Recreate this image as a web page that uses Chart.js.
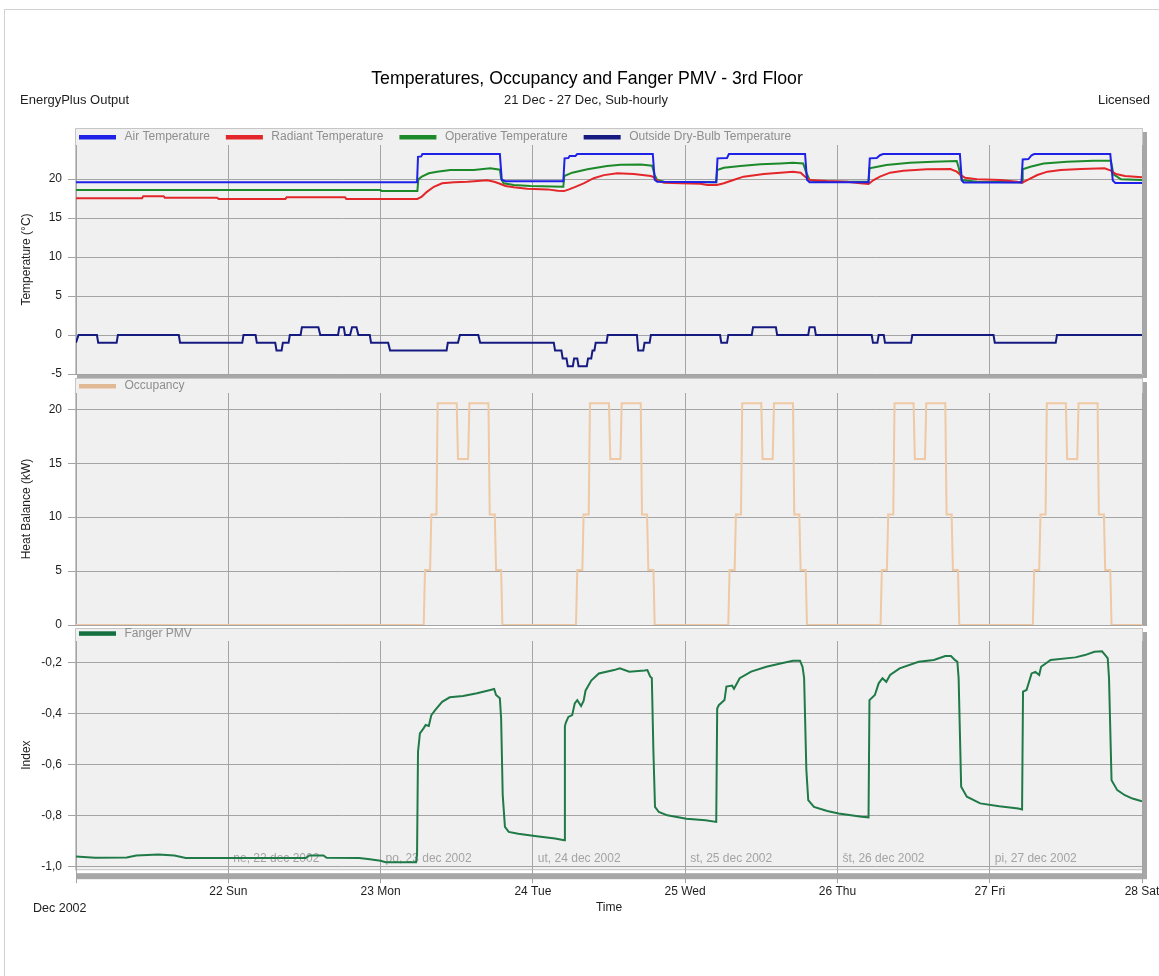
<!DOCTYPE html>
<html>
<head>
<meta charset="utf-8">
<title>Temperatures, Occupancy and Fanger PMV - 3rd Floor</title>
<script src="https://cdn.jsdelivr.net/npm/chart.js@4.4.1/dist/chart.umd.min.js"></script>
<style>
  html, body { margin: 0; padding: 0; background: #fff; overflow: hidden; }
  #page { position: relative; width: 1159px; height: 976px; overflow: hidden; background: #fff; }
  #frame { position: absolute; left: 4px; top: 9px; width: 1200px; height: 1000px;
           border-top: 1px solid #d2d2d2; border-left: 1px solid #d2d2d2; }
  canvas { position: absolute; left: 0; top: 0; }
</style>
</head>
<body>
<div id="page">
  <div id="frame"></div>
  <canvas id="cTemp" width="1200" height="976"></canvas>
  <canvas id="cOcc" width="1200" height="976"></canvas>
  <canvas id="cPmv" width="1200" height="976"></canvas>
</div>
<script>
// ---- Text ----
const TITLE = 'Temperatures, Occupancy and Fanger PMV - 3rd Floor';
const SUBTITLE = '21 Dec - 27 Dec, Sub-hourly';
const LEFT_NOTE = 'EnergyPlus Output';
const RIGHT_NOTE = 'Licensed';
const MONTH_LABEL = 'Dec 2002';

// ---- Time axis (hours from 21 Dec 2002 00:00) ----
const DAY_TICKS = [0, 24, 48, 72, 96, 120, 144, 168];
const DAY_LABELS = ['', '22 Sun', '23 Mon', '24 Tue', '25 Wed', '26 Thu', '27 Fri', '28 Sat'];
const DAY_NOTE_HOURS = [24, 48, 72, 96, 120, 144];
const DAY_NOTES = ['ne, 22 dec 2002', 'po, 23 dec 2002', 'ut, 24 dec 2002',
                   'st, 25 dec 2002', 'št, 26 dec 2002', 'pi, 27 dec 2002'];

// ---- Y ticks ----
const TEMP_TICKS = [-5, 0, 5, 10, 15, 20];
const OCC_TICKS = [0, 5, 10, 15, 20];
const PMV_TICKS = [-1.0, -0.8, -0.6, -0.4, -0.2];

// ---- Series: [hour, value] ----
const AIR_TEMP = [
  [0,19.6],[53.75,19.6],[53.9,22.85],[54.4,22.9],[54.6,23.2],[66.8,23.2],[67.1,19.9],[67.7,19.7],
  [76.8,19.7],[77.0,22.65],[77.6,22.7],[77.8,22.95],[78.7,22.95],[79.0,23.2],[90.9,23.2],[91.2,19.9],
  [91.6,19.65],[100.9,19.6],[101.1,22.65],[102.6,22.7],[102.9,23.2],[114.9,23.2],[115.2,19.9],[115.6,19.6],
  [124.9,19.6],[125.1,22.65],[126.2,22.7],[126.7,23.05],[127.2,23.2],[139.3,23.2],[139.6,19.8],[139.9,19.55],
  [149.0,19.55],[149.2,22.5],[150.1,22.55],[150.6,23.05],[151.0,23.2],[163.0,23.2],[163.4,19.8],[163.8,19.5],
  [168,19.5]
];
const RADIANT_TEMP = [
  [0,17.52],[10.4,17.52],[10.6,17.8],[13.8,17.8],[14.0,17.6],[22.2,17.6],[22.5,17.45],[33.0,17.45],
  [33.2,17.65],[42.4,17.65],[42.6,17.45],[53.8,17.45],[54.5,17.75],[55.3,18.35],[56.4,19.0],[57.7,19.45],
  [59.6,19.58],[61.7,19.65],[64.8,19.85],[65.9,19.65],[66.6,19.45],[67.7,19.1],[69.0,18.93],[71.1,18.76],
  [74.3,18.67],[75.9,18.5],[76.9,18.45],[77.7,18.67],[78.7,19.0],[80.0,19.45],[81.6,20.1],[83.2,20.5],
  [85.3,20.73],[87.9,20.65],[90.6,20.38],[91.1,20.22],[91.6,19.78],[92.7,19.53],[95.3,19.45],[98.4,19.4],
  [99.5,19.23],[101.0,19.23],[102.1,19.45],[103.6,19.87],[105.2,20.3],[108.4,20.64],[111.0,20.81],[113.0,20.94],
  [114.2,20.81],[114.9,20.3],[115.7,19.87],[118.3,19.74],[121.5,19.65],[123.6,19.45],[124.9,19.36],[125.7,19.87],
  [126.7,20.3],[128.3,20.81],[130.4,21.07],[134.1,21.24],[137.8,21.28],[138.8,20.94],[139.4,20.51],[140.1,20.17],
  [142.0,19.96],[145.7,19.87],[148.3,19.65],[149.1,19.53],[149.9,19.87],[151.5,20.51],[153.1,20.94],[155.2,21.15],
  [158.4,21.28],[162.1,21.37],[163.1,21.07],[163.9,20.64],[165.3,20.38],[168,20.22]
];
const OPERATIVE_TEMP = [
  [0,18.59],[48.0,18.59],[48.1,18.47],[53.8,18.47],[53.95,19.96],[54.5,20.3],[55.6,20.73],[56.9,20.94],
  [59.0,21.15],[62.7,21.15],[65.3,21.37],[66.8,21.2],[67.0,20.0],[67.4,19.45],[69.0,19.23],[71.6,19.1],
  [76.8,19.01],[76.95,20.38],[78.2,20.81],[80.6,21.24],[83.7,21.67],[85.8,21.83],[89.0,21.85],[90.8,21.7],
  [91.2,20.5],[91.6,19.87],[92.7,19.65],[100.9,19.6],[101.05,21.15],[102.1,21.45],[104.7,21.67],[107.9,21.88],
  [111.0,22.0],[113.0,22.09],[114.6,22.0],[115.1,20.8],[115.6,19.87],[117.3,19.65],[124.9,19.65],[125.05,21.37],
  [125.9,21.5],[127.7,21.79],[131.4,22.09],[135.1,22.22],[138.8,22.3],[139.1,21.5],[139.6,19.87],[142.0,19.65],
  [149.1,19.6],[149.2,21.24],[150.4,21.58],[152.5,22.0],[156.2,22.22],[160.4,22.35],[163.1,22.35],[163.5,20.6],
  [164.7,19.96],[168,19.87]
];
const OUTSIDE_TEMP = [
  [0,-1],[0.4,0],[3.3,0],[3.5,-1],[6.4,-1],[6.6,0],[16.2,0],[16.4,-1],[26.2,-1],[26.4,0],[28.3,0],[28.5,-1],
  [31.4,-1],[31.6,-2],[32.4,-2],[32.6,-1],[33.5,-1],[33.7,0],[35.4,0],[35.6,1],[38.2,1],[38.5,0],[41.3,0],
  [41.5,1],[42.2,1],[42.4,0],[43.2,0],[43.5,1],[44.2,1],[44.5,0],[46.3,0],[46.5,-1],[49.2,-1],[49.5,-2],
  [58.4,-2],[58.6,-1],[60.2,-1],[60.5,0],[63.4,0],[63.7,-1],[75.3,-1],[75.5,-2],[76.5,-2],[76.7,-3],[77.3,-3],
  [77.5,-4],[78.3,-4],[78.5,-3],[79.0,-3],[79.2,-4],[80.5,-4],[80.7,-3],[81.2,-3],[81.4,-2],[81.7,-2],[81.9,-1],
  [83.6,-1],[83.8,0],[88.4,0],[88.6,-2],[89.4,-2],[89.6,-1],[90.4,-1],[90.6,0],[101.5,0],[101.7,-1],[102.6,-1],
  [102.8,0],[106.5,0],[106.7,1],[110.3,1],[110.5,0],[115.4,0],[115.6,1],[116.4,1],[116.6,0],[125.4,0],[125.6,-1],
  [126.3,-1],[126.5,0],[127.3,0],[127.5,-1],[131.6,-1],[131.8,0],[144.6,0],[144.8,-1],[154.4,-1],[154.6,0],[168,0]
];
const OCCUPANCY = [
  [0,0],[54.8,0],
  [55,5.1],[55.8,5.1],[56,10.25],[56.8,10.25],[57,20.55],[60,20.55],[60.2,15.4],[61.8,15.4],[62,20.55],[65,20.55],
  [65.2,10.25],[66,10.25],[66.2,5.1],[67,5.1],[67.2,0],
  [78.8,0],[79,5.1],[79.8,5.1],[80,10.25],[80.8,10.25],[81,20.55],[84,20.55],[84.2,15.4],[85.8,15.4],[86,20.55],
  [89,20.55],[89.2,10.25],[90,10.25],[90.2,5.1],[91,5.1],[91.2,0],
  [102.8,0],[103,5.1],[103.8,5.1],[104,10.25],[104.8,10.25],[105,20.55],[108,20.55],[108.2,15.4],[109.8,15.4],
  [110,20.55],[113,20.55],[113.2,10.25],[114,10.25],[114.2,5.1],[115,5.1],[115.2,0],
  [126.8,0],[127,5.1],[127.8,5.1],[128,10.25],[128.8,10.25],[129,20.55],[132,20.55],[132.2,15.4],[133.8,15.4],
  [134,20.55],[137,20.55],[137.2,10.25],[138,10.25],[138.2,5.1],[139,5.1],[139.2,0],
  [150.8,0],[151,5.1],[151.8,5.1],[152,10.25],[152.8,10.25],[153,20.55],[156,20.55],[156.2,15.4],[157.8,15.4],
  [158,20.55],[161,20.55],[161.2,10.25],[162,10.25],[162.2,5.1],[163,5.1],[163.2,0],[168,0]
];
const FANGER_PMV = [
  [0,-0.962],[3,-0.967],[8,-0.966],[9.5,-0.958],[13,-0.954],[15.5,-0.958],[17.3,-0.968],[36.2,-0.968],
  [36.8,-0.958],[39.0,-0.958],[39.5,-0.967],[44.6,-0.968],[46,-0.972],[48,-0.979],[48.8,-0.984],[53.6,-0.984],
  [53.75,-0.95],[53.9,-0.55],[54.2,-0.478],[54.8,-0.457],[55.1,-0.445],[55.6,-0.449],[56.0,-0.406],[56.6,-0.386],
  [57.7,-0.354],[58.9,-0.336],[61.0,-0.331],[63.2,-0.32],[65.3,-0.307],[65.9,-0.303],[66.2,-0.327],[66.8,-0.34],
  [67.0,-0.42],[67.25,-0.72],[67.6,-0.845],[68.2,-0.865],[69.7,-0.872],[72.6,-0.882],[75.5,-0.891],[76.95,-0.898],
  [77.05,-0.45],[77.2,-0.435],[77.6,-0.413],[78.2,-0.406],[78.6,-0.36],[79.0,-0.347],[79.6,-0.37],[80.0,-0.35],
  [80.3,-0.31],[81.2,-0.27],[82.4,-0.242],[84.8,-0.229],[85.7,-0.222],[87.2,-0.235],[89.6,-0.231],[90.05,-0.229],
  [90.5,-0.255],[90.75,-0.26],[91.0,-0.55],[91.25,-0.767],[91.85,-0.787],[93.2,-0.8],[96.2,-0.813],[99.2,-0.819],
  [100.9,-0.826],
  [101.05,-0.38],[101.3,-0.367],[102.2,-0.347],[102.5,-0.294],[103.4,-0.29],[103.7,-0.302],[104.6,-0.261],
  [106.4,-0.235],[108.8,-0.216],[111.2,-0.202],[113.0,-0.192],[114.1,-0.192],[114.5,-0.216],[114.75,-0.26],
  [115.1,-0.62],[115.4,-0.74],[116.3,-0.767],[118.4,-0.783],[120.2,-0.793],[123.8,-0.806],[124.9,-0.808],
  [125.05,-0.347],[125.9,-0.327],[126.5,-0.281],[127.1,-0.261],[127.7,-0.275],[128.3,-0.248],[129.8,-0.222],
  [132.8,-0.196],[135.2,-0.189],[137.0,-0.174],[137.9,-0.174],[138.5,-0.189],[138.9,-0.196],[139.1,-0.26],
  [139.5,-0.688],[140.4,-0.727],[142.5,-0.753],[145.5,-0.764],[148.5,-0.773],[149.1,-0.777],
  [149.25,-0.314],[149.8,-0.307],[150.6,-0.242],[151.2,-0.236],[151.8,-0.248],[152.1,-0.216],[153.6,-0.189],
  [157.5,-0.179],[159.0,-0.17],[160.5,-0.157],[161.7,-0.155],[162.4,-0.176],[162.6,-0.183],[162.8,-0.26],
  [163.2,-0.662],[164.1,-0.701],[165.3,-0.721],[166.5,-0.734],[168,-0.745]
];

// ---- Styling ----
const FONT = '"Liberation Sans", Arial, Helvetica, sans-serif';
const INK = '#1e1e1e';
const GRID = '#a4a4a4';
const PLOT_BG = '#f0f0f0';
const LEGEND_INK = '#8e8e8e';

Chart.defaults.font.family = FONT;
Chart.defaults.font.size = 12;
Chart.defaults.color = INK;
Chart.defaults.animation = false;

const toXY = (pairs) => pairs.map(([x, y]) => ({ x, y }));

// Panel box with drop shadow plus a legend strip above the plot area
const panelFrame = {
  id: 'panelFrame',
  beforeDraw(chart, args, o) {
    const { ctx, chartArea: a } = chart;
    const left = a.left - 1, right = a.right + 1;
    const top = a.top - o.strip, bottom = a.bottom + 1;
    ctx.save();
    ctx.fillStyle = '#a7a7a7';
    ctx.fillRect(right, top + 4, 4, bottom - top + o.shadow - 4);
    if (o.shadow > 0) ctx.fillRect(left + 2, bottom + o.gap, right - left + 2, o.shadow);
    ctx.fillStyle = PLOT_BG;
    ctx.fillRect(left, top, right - left, bottom - top);
    ctx.strokeStyle = '#c6c6c6';
    ctx.lineWidth = 1;
    ctx.strokeRect(left + 0.5, top + 0.5, right - left - 1, bottom - top - 1);
    ctx.restore();
  },
  afterDraw(chart, args, o) {
    const { ctx, chartArea: a } = chart;
    let x = a.left + 3;
    const y = a.top - o.legendOffset;
    ctx.save();
    ctx.font = '12px ' + FONT;
    ctx.textBaseline = 'middle';
    ctx.textAlign = 'left';
    chart.data.datasets.forEach(ds => {
      ctx.fillStyle = ds.legendColor || ds.borderColor;
      ctx.fillRect(x, y - 2, 37, 4.5);
      x += 37 + 8.5;
      ctx.fillStyle = LEGEND_INK;
      ctx.fillText(ds.label, x, y);
      x += ctx.measureText(ds.label).width + 16;
    });
    ctx.restore();
  }
};

// Page heading, drawn once on the first chart
const pageHeader = {
  id: 'pageHeader',
  afterDraw(chart) {
    const ctx = chart.ctx;
    ctx.save();
    ctx.fillStyle = '#000';
    ctx.textBaseline = 'middle';
    ctx.textAlign = 'center';
    ctx.font = '17.7px ' + FONT;
    ctx.fillText(TITLE, 587, 79.5);
    ctx.fillStyle = INK;
    ctx.font = '13px ' + FONT;
    ctx.fillText(SUBTITLE, 586, 100.5);
    ctx.textAlign = 'left';
    ctx.fillText(LEFT_NOTE, 20, 100.5);
    ctx.textAlign = 'right';
    ctx.fillText(RIGHT_NOTE, 1150, 100.5);
    ctx.restore();
  }
};

// Calendar notes inside the bottom panel and the month under the time axis
const dayNotes = {
  id: 'dayNotes',
  beforeDatasetsDraw(chart) {
    const { ctx, chartArea: a, scales: { x } } = chart;
    ctx.save();
    ctx.font = '12px ' + FONT;
    ctx.fillStyle = '#a3a3a3';
    ctx.textBaseline = 'middle';
    ctx.textAlign = 'left';
    DAY_NOTES.forEach((t, i) => ctx.fillText(t, x.getPixelForValue(DAY_NOTE_HOURS[i]) + 5, a.bottom - 10.5));
    ctx.restore();
  },
  afterDraw(chart) {
    const ctx = chart.ctx;
    ctx.save();
    ctx.font = '12.5px ' + FONT;
    ctx.fillStyle = INK;
    ctx.textBaseline = 'middle';
    ctx.textAlign = 'left';
    ctx.fillText(MONTH_LABEL, 33, 908.5);
    ctx.restore();
  }
};

function timeAxis(withLabels) {
  return {
    type: 'linear', min: 0, max: 168,
    afterBuildTicks(s) { s.ticks = DAY_TICKS.map(v => ({ value: v })); },
    border: { display: false },
    grid: { color: GRID, tickColor: GRID, lineWidth: 1, drawTicks: withLabels, tickLength: 14 },
    ticks: {
      display: withLabels, padding: 1, maxRotation: 0, autoSkip: false, color: INK,
      callback: (v) => DAY_LABELS[DAY_TICKS.indexOf(v)]
    },
    title: withLabels
      ? { display: true, text: 'Time', color: INK, padding: { top: 1, bottom: 0 } }
      : { display: false }
  };
}

function valueAxis(min, max, ticks, title, fmt) {
  return {
    type: 'linear', min, max,
    afterFit(s) { s.width = 76; },
    afterBuildTicks(s) { s.ticks = ticks.map(v => ({ value: v })); },
    border: { display: false },
    grid: { color: GRID, tickColor: GRID, lineWidth: 1, tickLength: 8 },
    ticks: { padding: 6, color: INK, callback: fmt || (v => String(v)) },
    title: { display: true, text: title, color: INK, padding: { top: 19.8, bottom: 0 } }
  };
}

function line(label, pairs, color, extra) {
  return Object.assign({
    label, data: toXY(pairs), borderColor: color, backgroundColor: color,
    borderWidth: 2, pointRadius: 0, tension: 0, fill: false
  }, extra || {});
}

function baseOptions(pad, xAxis, yAxis, frame) {
  return {
    responsive: false,
    animation: false,
    events: [],
    layout: { autoPadding: false, padding: pad },
    plugins: { legend: { display: false }, tooltip: { enabled: false }, panelFrame: frame },
    scales: { x: xAxis, y: yAxis }
  };
}

// Temperatures
new Chart(document.getElementById('cTemp'), {
  type: 'line',
  data: {
    datasets: [
      line('Air Temperature', AIR_TEMP, '#1f22e6'),
      line('Radiant Temperature', RADIANT_TEMP, '#e3262a'),
      line('Operative Temperature', OPERATIVE_TEMP, '#1c8a2a'),
      line('Outside Dry-Bulb Temperature', OUTSIDE_TEMP, '#151a80')
    ]
  },
  options: baseOptions({ left: 0, right: 58, top: 145, bottom: 976 - 374 },
    timeAxis(false), valueAxis(-5, 24.36, TEMP_TICKS, 'Temperature (°C)'),
    { strip: 17, legendOffset: 8, shadow: 3, gap: 0 }),
  plugins: [panelFrame, pageHeader]
});

// Occupancy
new Chart(document.getElementById('cOcc'), {
  type: 'line',
  data: {
    datasets: [
      line('Occupancy', OCCUPANCY, '#efc8a4', { legendColor: '#e2b995' })
    ]
  },
  options: baseOptions({ left: 0, right: 58, top: 393, bottom: 976 - 625 },
    timeAxis(false), valueAxis(0, 21.51, OCC_TICKS, 'Heat Balance (kW)'),
    { strip: 15, legendOffset: 7, shadow: 0, gap: 0 }),
  plugins: [panelFrame]
});

// Fanger PMV
new Chart(document.getElementById('cPmv'), {
  type: 'line',
  data: {
    datasets: [
      line('Fanger PMV', FANGER_PMV, '#1f7a48', { legendColor: '#157040' })
    ]
  },
  options: baseOptions({ left: 0, right: 58, top: 641, bottom: 61 },
    timeAxis(true),
    valueAxis(-1.0118, -0.1146, PMV_TICKS, 'Index', v => v.toFixed(1).replace('.', ',')),
    { strip: 13, legendOffset: 7.7, shadow: 6, gap: 3 }),
  plugins: [panelFrame, dayNotes]
});
</script>
</body>
</html>
